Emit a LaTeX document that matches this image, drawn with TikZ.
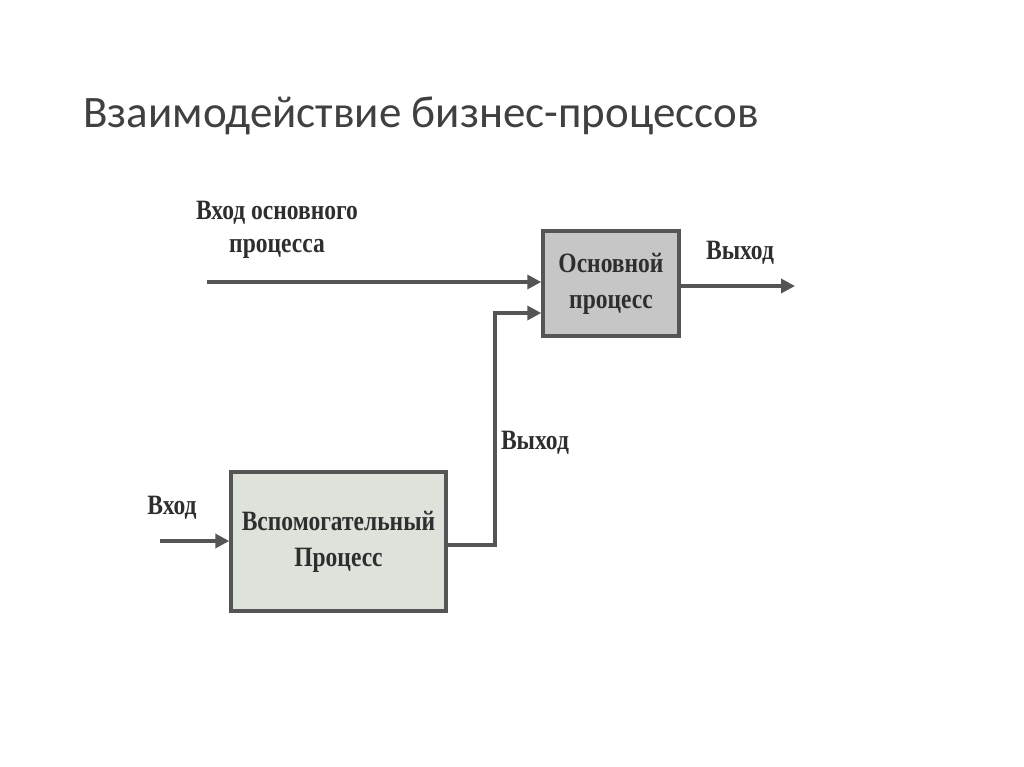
\documentclass[tikz,border=0pt]{standalone}
\usepackage{fontspec}
\setmainfont{Carlito}
\newfontfamily\diag[FakeStretch=0.84]{Liberation Serif}
\usetikzlibrary{arrows.meta}
\definecolor{ln}{HTML}{555555}
\definecolor{tx}{HTML}{2E2E2E}
\definecolor{mainfill}{HTML}{C6C6C6}
\definecolor{auxfill}{HTML}{DDE3DB}
\tikzset{
  proc/.style={draw=ln, line width=3.5pt, inner sep=0pt, text=tx, align=center,
    font=\diag\bfseries\fontsize{28}{36}\selectfont},
  lbl/.style={text=tx, align=center, inner sep=0pt, font=\diag\bfseries\fontsize{28}{33}\selectfont},
  conn/.style={draw=ln, line width=3.5pt, -{Triangle[length=14pt,width=14pt]}},
}
\begin{document}
\begin{tikzpicture}[x=1pt,y=-1pt]
\useasboundingbox (0,0) rectangle (1024,767);
\fill[white] (0,0) rectangle (1024,767);
\node[anchor=base west, inner sep=0pt, text=black!75, font=\fontsize{45}{54}\selectfont] (title) at (83,128) {Взаимодействие бизнес-процессов};

\node[proc, fill=mainfill, minimum width=136pt, minimum height=105pt] (main) at (611,283.5) {Основной\\процесс};
\node[proc, fill=auxfill, minimum width=215pt, minimum height=139pt] (aux) at (338.5,541.5) {Вспомогательный\\Процесс};

\coordinate (inMain) at (207,282);
\coordinate (out) at (795,286);
\coordinate (inAux) at (160,541);
\coordinate (bend) at (495,545);

\draw[conn] (inMain) -- (inMain -| main.west);
\draw[conn] (main.east |- out) -- (out);
\draw[conn] (inAux) -- (inAux -| aux.west);
\draw[conn] (aux.east |- bend) -- (bend) -- (495,313) -- (main.west |- 0,313);

\node[lbl] (l1) at (277,230) {Вход основного\\процесса};
\node[lbl] (l2) at (740,253) {Выход};
\node[lbl] (l3) at (535,443) {Выход};
\node[lbl] (l4) at (172,508) {Вход};
\end{tikzpicture}
\end{document}
